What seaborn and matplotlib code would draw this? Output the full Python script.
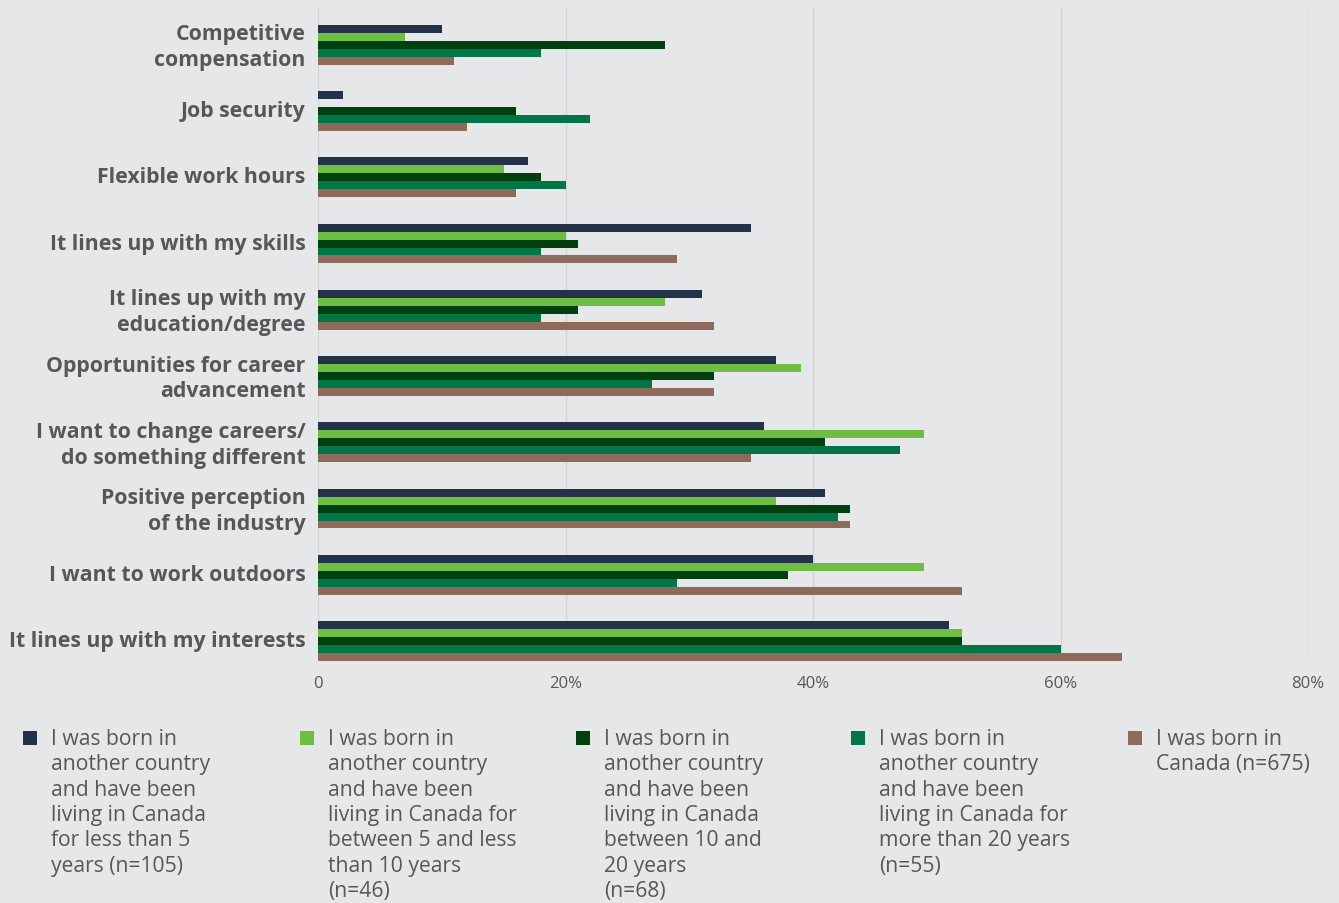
import matplotlib
matplotlib.use("Agg")
import matplotlib.pyplot as plt
import matplotlib.transforms as mtransforms
import seaborn as sns
import pandas as pd
from matplotlib.patches import Rectangle

categories = [
    "Competitive\ncompensation",
    "Job security",
    "Flexible work hours",
    "It lines up with my skills",
    "It lines up with my\neducation/degree",
    "Opportunities for career\nadvancement",
    "I want to change careers/\ndo something different",
    "Positive perception\nof the industry",
    "I want to work outdoors",
    "It lines up with my interests",
]

series_labels = [
    "I was born in\nanother country\nand have been\nliving in Canada\nfor less than 5\nyears (n=105)",
    "I was born in\nanother country\nand have been\nliving in Canada for\nbetween 5 and less\nthan 10 years\n(n=46)",
    "I was born in\nanother country\nand have been\nliving in Canada\nbetween 10 and\n20 years\n(n=68)",
    "I was born in\nanother country\nand have been\nliving in Canada for\nmore than 20 years\n(n=55)",
    "I was born in\nCanada (n=675)",
]

lt5 = [10, 2, 17, 35, 31, 37, 36, 41, 40, 51]
y5_10 = [7, 0, 15, 20, 28, 39, 49, 37, 49, 52]
y10_20 = [28, 16, 18, 21, 21, 32, 41, 43, 38, 52]
gt20 = [18, 22, 20, 18, 18, 27, 47, 42, 29, 60]
canada = [11, 12, 16, 29, 32, 32, 35, 43, 52, 65]

x_ticks = [0, 20, 40, 60, 80]
tick_labels = ["0", "20%", "40%", "60%", "80%"]

colors = ["#243249", "#6fbe44", "#003f0e", "#007545", "#8e6a5b"]
bg = "#e6e7e9"
text_col = "#555759"

series_values = [lt5, y5_10, y10_20, gt20, canada]
rows = []
for lab, vals in zip(series_labels, series_values):
    for c, v in zip(categories, vals):
        rows.append({"category": c, "value": v, "group": lab})
df = pd.DataFrame(rows)

sns.set_theme(style="white")
plt.rcParams["font.family"] = ["Open Sans", "DejaVu Sans"]

fig = plt.figure(figsize=(13.39, 9.04), dpi=100, facecolor=bg)
ax = fig.add_axes([318 / 1339, (904 - 662) / 904, (1308 - 318) / 1339, (662 - 8) / 904])
ax.set_facecolor(bg)

sns.barplot(data=df, y="category", x="value", hue="group", order=categories,
            hue_order=series_labels, palette=colors, orient="h", width=0.6,
            dodge=True, saturation=1, linewidth=0, ax=ax, legend=False)

ax.set_xlim(0, 80)
ax.set_ylim(9.3, -0.57)
ax.set_xticks(x_ticks)
ax.set_xticklabels(tick_labels)
ax.xaxis.grid(True, color="#d3d5d8", linewidth=1)
ax.set_axisbelow(True)
for s in ax.spines.values():
    s.set_visible(False)
ax.set_xlabel("")
ax.set_ylabel("")
ax.tick_params(axis="x", length=0, pad=10, labelsize=12, labelcolor=text_col)
ax.tick_params(axis="y", length=0, pad=9, labelsize=15.3)
shift = mtransforms.ScaledTranslation(0, 3 / 100, fig.dpi_scale_trans)
for t in ax.get_yticklabels():
    t.set_fontweight("bold")
    t.set_color(text_col)
    t.set_linespacing(1.3)
    t.set_horizontalalignment("right")
    t.set_multialignment("right")
    t.set_transform(t.get_transform() + shift)

# legend columns
sq_x = [23, 300, 576, 851, 1128]
for i, (lab, col) in enumerate(zip(series_labels, colors)):
    x0 = sq_x[i]
    fig.patches.append(Rectangle((x0 / 1339, 1 - 746 / 904), 14 / 1339, 14 / 904,
                                 transform=fig.transFigure, facecolor=col, edgecolor="none"))
    fig.text((x0 + 28) / 1339, 1 - 729 / 904, lab, ha="left", va="top",
             fontsize=15.2, color=text_col, linespacing=1.27)

fig.savefig("out.png", dpi=100, facecolor=bg)
